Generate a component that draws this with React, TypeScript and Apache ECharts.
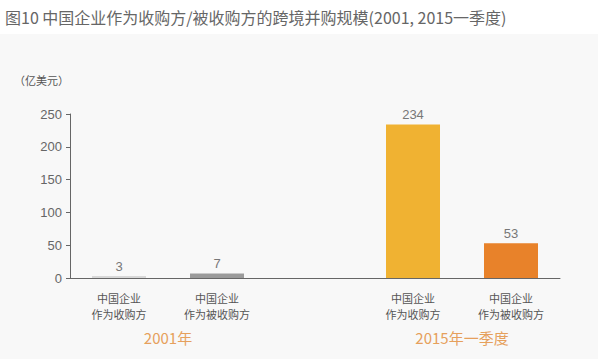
import React, { useEffect, useRef } from "react";
import * as echarts from "echarts";

const categories = ["中国企业\n作为收购方", "中国企业\n作为被收购方", "", "中国企业\n作为收购方", "中国企业\n作为被收购方"];
const values: (number | null)[] = [3, 7, null, 234, 53];
const barColors = ["#d8d8d8", "#9b9b9b", "#ffffff", "#f0b232", "#e8822a"];
const groupLabels: Record<number, string> = { 1: "2001年", 4: "2015年一季度" };
const yTicks = [0, 50, 100, 150, 200, 250];

export default function App() {
  const ref = useRef<HTMLDivElement>(null);
  useEffect(() => {
    if (!ref.current) return;
    const chart = echarts.init(ref.current, null, { renderer: "svg" });
    chart.setOption({
      animation: false,
      backgroundColor: "#ffffff",
      title: {
        text: "图10 中国企业作为收购方/被收购方的跨境并购规模(2001, 2015一季度)",
        left: 0,
        top: 4,
        textStyle: { fontSize: 16, fontWeight: "normal", color: "#666666", fontFamily: "Noto Sans CJK SC" },
      },
      graphic: [
        { type: "rect", z: -10, shape: { x: 0, y: 34, width: 598, height: 325 }, style: { fill: "#f8f8f8" }, silent: true },
        {
          type: "text",
          left: 14,
          top: 74,
          style: { text: "（亿美元）", fontSize: 11, fill: "#555555", fontFamily: "Noto Sans CJK SC" },
        },
      ],
      grid: { left: 70, right: 38, top: 114, bottom: 81, containLabel: false },
      xAxis: [
        {
          type: "category",
          data: categories,
          axisLine: { lineStyle: { color: "#666666", width: 1 } },
          axisTick: { show: false },
          axisLabel: { color: "#555555", fontSize: 11, lineHeight: 16, margin: 12, fontFamily: "Noto Sans CJK SC", interval: 0 },
        },
        {
          type: "value",
          min: 0,
          max: 5,
          interval: 1,
          position: "bottom",
          offset: 44,
          axisLine: { show: false },
          axisTick: { show: false },
          splitLine: { show: false },
          axisLabel: {
            color: "#e6a05c",
            fontSize: 15,
            fontFamily: "Noto Sans CJK SC",
            formatter: (v: number) => groupLabels[v] || "",
          },
        },
      ],
      yAxis: {
        type: "value",
        min: 0,
        max: 250,
        interval: 50,
        axisLine: { show: true, lineStyle: { color: "#666666" } },
        axisTick: { show: true, length: 4, lineStyle: { color: "#666666" } },
        splitLine: { show: false },
        axisLabel: { color: "#666666", fontSize: 13, margin: 8, formatter: (v: number) => (yTicks.includes(v) ? String(v) : "") },
      },
      series: [
        {
          type: "bar",
          xAxisIndex: 0,
          barWidth: 54,
          data: values.map((v, i) => ({ value: v, itemStyle: { color: barColors[i] } })),
          label: { show: true, position: "top", color: "#777777", fontSize: 13, distance: 3 },
        },
      ],
    });
    return () => chart.dispose();
  }, []);
  return <div ref={ref} style={{ position: "absolute", left: 0, top: 0, width: 598, height: 359 }} />;
}
